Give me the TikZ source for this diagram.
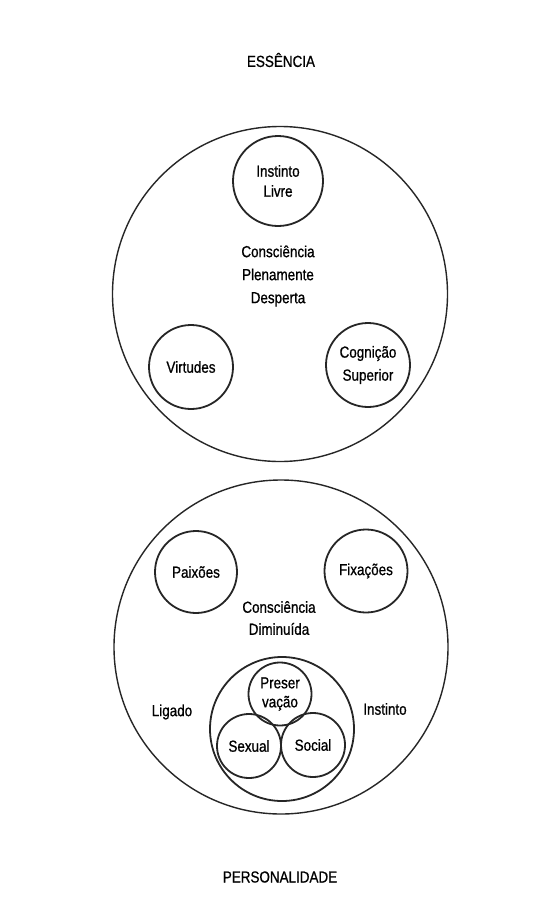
\documentclass[tikz,border=0pt]{standalone}
\usepackage{fontspec}
\setmainfont{Liberation Sans}[FakeStretch=0.84,FakeBold=0.8]
\begin{document}
\begin{tikzpicture}[x=1pt,y=-1pt,
  bigc/.style={circle,draw=black!85,line width=1.4pt,inner sep=0pt},
  smallc/.style={circle,draw=black!85,line width=1.8pt,inner sep=0pt,align=center,font=\fontsize{16}{20}\selectfont},
  lbl/.style={align=center,inner sep=0pt,font=\fontsize{16}{23}\selectfont}]
\useasboundingbox[fill=white] (0,0) rectangle (546,905);
% titles
\node[lbl] (ess) at (281,60) {ESSÊNCIA};
\node[lbl] (pers) at (280,877) {PERSONALIDADE};
% essence
\node[bigc,minimum size=335pt] (essc) at (280,294) {};
\node[smallc,minimum size=90pt] (livre) at (278,181) {Instinto\\Livre};
\node[lbl] (cpd) at (278,276) {Consciência\\Plenamente\\Desperta};
\node[smallc,minimum size=84pt] (virt) at (191,367) {Virtudes};
\node[smallc,minimum size=84pt,font=\fontsize{16}{23}\selectfont] (cogn) at (368,365) {Cognição\\Superior};
% personality
\node[bigc,minimum size=334pt] (persc) at (281,647) {};
\node[smallc,minimum size=82pt] (paix) at (196,572) {Paixões};
\node[smallc,minimum size=83pt] (fix) at (366,571) {Fixações};
\node[lbl,font=\fontsize{16}{22}\selectfont] (cd) at (279,618) {Consciência\\Diminuída};
\node[smallc,minimum size=144pt] (inst) at (282,729) {};
\node[smallc,minimum size=63pt,font=\fontsize{16}{19}\selectfont] (pres) at (280,694) {Preser\\vação};
\node[smallc,minimum size=64pt] (sex) at (249,746) {Sexual};
\node[smallc,minimum size=64pt] (soc) at (313,745) {Social};
\node[lbl] (lig) at (172,712) {Ligado};
\node[lbl] (instl) at (385,709) {Instinto};
\end{tikzpicture}
\end{document}
